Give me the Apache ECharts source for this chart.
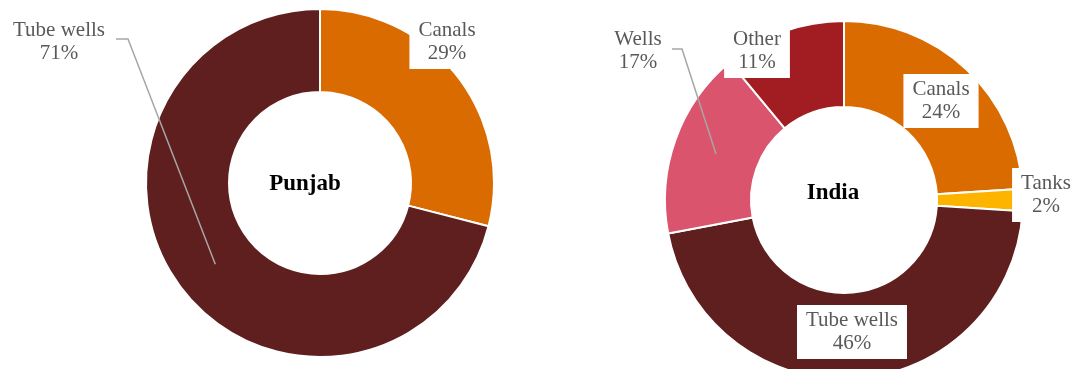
<!DOCTYPE html>
<html>
<head>
<meta charset="utf-8">
<script src="https://cdn.jsdelivr.net/npm/echarts@6/dist/echarts.min.js"></script>
<style>
  html, body { margin: 0; padding: 0; background: #fff; }
  #chart { width: 1076px; height: 369px; }
</style>
</head>
<body>
<div id="chart"></div>
<script>
// ---- data ----
const punjabCategories = ['Canals', 'Tube wells'];
const punjabValues = [29, 71];
const indiaCategories = ['Canals', 'Tanks', 'Tube wells', 'Wells', 'Other'];
const indiaValues = [24, 2, 46, 17, 11];
const chartTitles = ['Punjab', 'India'];

// ---- styles ----
const punjabColors = ['#D96B00', '#5E1F1E'];
const indiaColors = ['#D96B00', '#FDB400', '#5E1F1E', '#D9546C', '#A11D21'];

// ---- layout ----
const layouts = [
  {
    center: [320, 183], radius: [91, 174], titlePos: [305, 184],
    labels: [
      { x: 447, y: 42 },
      { x: 59, y: 42, line: [[116, 39], [128, 39]] }
    ]
  },
  {
    center: [844, 200], radius: [93, 179], titlePos: [833, 193],
    labels: [
      { x: 941, y: 101 },
      { x: 1046, y: 195 },
      { x: 852, y: 332 },
      { x: 638, y: 51, line: [[672, 49], [682, 49]] },
      { x: 757, y: 51 }
    ]
  }
];

const datasets = [
  { cats: punjabCategories, vals: punjabValues, colors: punjabColors },
  { cats: indiaCategories, vals: indiaValues, colors: indiaColors }
];

// point at the middle of a slice (mid angle, mid ring radius), derived from the data
function midPoint(ds, lay, idx) {
  const total = ds.vals.reduce((a, b) => a + b, 0);
  let before = 0;
  for (let i = 0; i < idx; i++) before += ds.vals[i];
  const mid = (before + ds.vals[idx] / 2) / total * Math.PI * 2;
  const r = (lay.radius[0] + lay.radius[1]) / 2;
  return [lay.center[0] + r * Math.sin(mid), lay.center[1] - r * Math.cos(mid)];
}

const series = datasets.map((ds, si) => {
  const lay = layouts[si];
  return {
    type: 'pie',
    center: lay.center,
    radius: lay.radius,
    startAngle: 90,
    clockwise: true,
    avoidLabelOverlap: false,
    animation: false,
    silent: true,
    itemStyle: { borderColor: '#fff', borderWidth: 2 },
    label: {
      show: true,
      position: 'outside',
      formatter: '{b}\n{c}%',
      color: '#595959',
      fontFamily: 'Liberation Serif',
      fontSize: 21,
      lineHeight: 23,
      align: 'center',
      backgroundColor: '#fff',
      padding: [4, 9]
    },
    labelLine: { show: false },
    labelLayout: function (params) {
      const L = lay.labels[params.dataIndex];
      return { x: L.x, y: L.y, align: 'center', verticalAlign: 'middle' };
    },
    data: ds.cats.map((c, i) => ({
      name: c,
      value: ds.vals[i],
      itemStyle: { color: ds.colors[i] },
      label: lay.labels[i].line ? { backgroundColor: 'transparent' } : {}
    }))
  };
});

const graphics = [];
chartTitles.forEach((t, i) => {
  graphics.push({
    type: 'text',
    x: layouts[i].titlePos[0],
    y: layouts[i].titlePos[1],
    z: 100,
    style: {
      text: t,
      fill: '#000',
      font: 'bold 23px "Liberation Serif"',
      align: 'center',
      verticalAlign: 'middle'
    }
  });
});
datasets.forEach((ds, si) => {
  const lay = layouts[si];
  lay.labels.forEach((L, idx) => {
    if (!L.line) return;
    graphics.push({
      type: 'polyline',
      z: 100,
      shape: { points: [L.line[0], L.line[1], midPoint(ds, lay, idx)] },
      style: { stroke: '#A6A6A6', lineWidth: 1.5, fill: null }
    });
  });
});

const chart = echarts.init(document.getElementById('chart'), null, { renderer: 'canvas' });
chart.setOption({
  backgroundColor: '#fff',
  animation: false,
  series: series,
  graphic: graphics
});
</script>
</body>
</html>
